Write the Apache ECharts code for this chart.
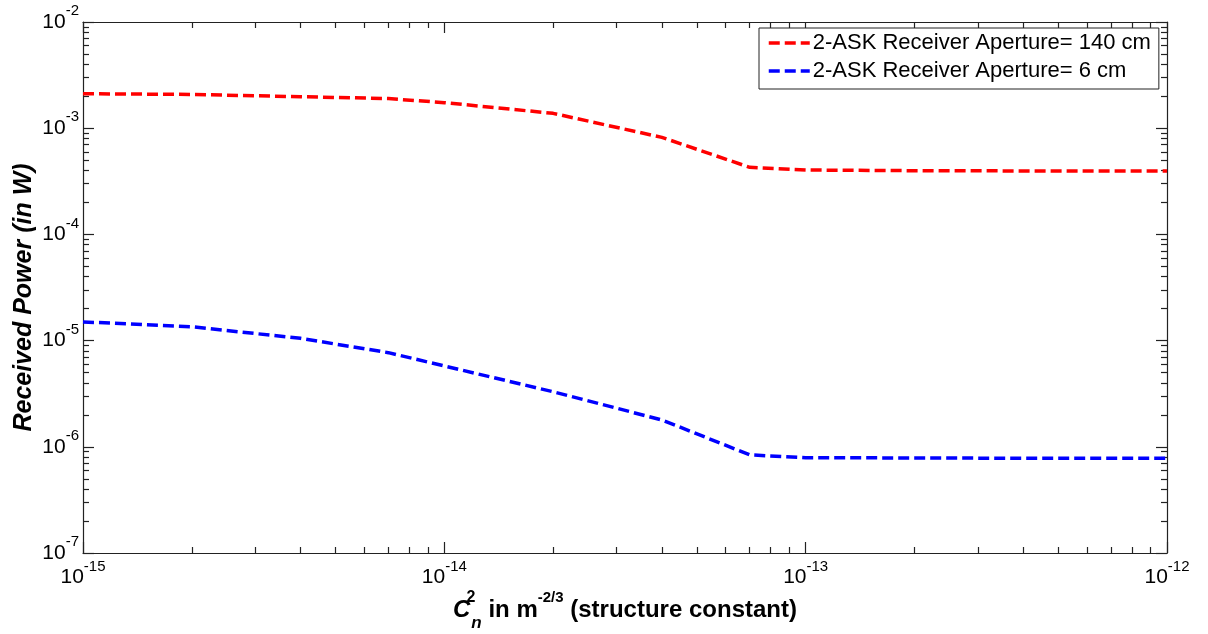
<!DOCTYPE html>
<html>
<head>
<meta charset="utf-8">
<script src="https://cdn.jsdelivr.net/npm/echarts@6/dist/echarts.min.js"></script>
<style>
  html, body { margin: 0; padding: 0; background: #fff; }
  #chart { width: 1208px; height: 634px; }
</style>
</head>
<body>
<div id="chart"></div>
<script>
// structure constant Cn^2 (m^-2/3)
const cn2 = [1e-15, 2e-15, 4e-15, 7e-15, 1e-14, 2e-14, 4e-14, 7e-14, 1e-13, 2e-13, 4e-13, 7e-13, 1e-12];
// received power (W)
const power140 = [2.11e-3, 2.08e-3, 1.98e-3, 1.90e-3, 1.74e-3, 1.38e-3, 8.2e-4, 4.28e-4, 4.04e-4, 3.98e-4, 3.96e-4, 3.95e-4, 3.95e-4];
const power6 = [1.50e-5, 1.35e-5, 1.05e-5, 7.7e-6, 5.77e-6, 3.3e-6, 1.79e-6, 8.4e-7, 7.9e-7, 7.85e-7, 7.8e-7, 7.8e-7, 7.8e-7];
const seriesNames = ['2-ASK Receiver Aperture= 140 cm', '2-ASK Receiver Aperture= 6 cm'];

const xDecades = [1e-15, 1e-14, 1e-13, 1e-12];
const yDecades = [1e-7, 1e-6, 1e-5, 1e-4, 1e-3, 1e-2];

const FONT = 'Liberation Sans, Arial, sans-serif';
const AXIS_COLOR = '#222';
const DASH = [11, 5];

function minorTicks(decades) {
  const out = [];
  for (let i = 0; i < decades.length - 1; i++) {
    for (let k = 2; k <= 9; k++) out.push(k * decades[i]);
  }
  return out;
}

const powRich = {
  b: { fontSize: 21, lineHeight: 21, color: '#000', fontFamily: FONT },
  s: { fontSize: 15, lineHeight: 15, padding: [0, 0, 22, 0], color: '#000', fontFamily: FONT }
};
const powFmt = v => '{b|10}{s|' + Math.round(Math.log10(v)) + '}';

function logAxis(kind, position, gridIndex, values, opts) {
  const isX = kind === 'x';
  const major = opts.major;
  return Object.assign({
    type: 'log',
    logBase: 10,
    gridIndex: gridIndex,
    position: position,
    min: isX ? 1e-15 : 1e-7,
    max: isX ? 1e-12 : 1e-2,
    axisLine: { show: major, onZero: false, lineStyle: { color: AXIS_COLOR, width: 1.2 } },
    axisTick: {
      show: true, inside: true, length: major ? 11 : 6,
      customValues: values,
      lineStyle: { color: AXIS_COLOR, width: 1.2 }
    },
    axisLabel: { show: false },
    splitLine: { show: false },
    minorTick: { show: false },
    minorSplitLine: { show: false }
  }, opts.extra || {});
}

const gridRect = { left: 83, right: 41, top: 22, bottom: 81, containLabel: false, outerBoundsMode: 'none' };

const xAxes = [
  logAxis('x', 'bottom', 0, xDecades, {
    major: true,
    extra: {
      axisLabel: {
        show: true, margin: 14, customValues: xDecades,
        formatter: powFmt, rich: powRich
      },
      name: '{ci|C}{cs|2}{cn|n}{t| in m}{sp|-2/3}{t| (structure constant)}',
      nameLocation: 'middle',
      nameGap: 45,
      nameMoveOverlap: false,
      nameTextStyle: {
        rich: {
          ci: { fontSize: 24, fontWeight: 'bold', fontStyle: 'italic', color: '#000', fontFamily: FONT },
          cs: { fontSize: 16, fontWeight: 'bold', lineHeight: 16, width: 1, padding: [0, 0, 24, 0], color: '#000', fontFamily: FONT },
          cn: { fontSize: 17, fontWeight: 'bold', fontStyle: 'italic', lineHeight: 17, padding: [26, 0, 0, 0], color: '#000', fontFamily: FONT },
          t: { fontSize: 24, fontWeight: 'bold', color: '#000', fontFamily: FONT },
          sp: { fontSize: 15, fontWeight: 'bold', lineHeight: 15, padding: [0, 0, 24, 0], color: '#000', fontFamily: FONT }
        }
      }
    }
  }),
  logAxis('x', 'top', 0, xDecades, { major: true }),
  logAxis('x', 'bottom', 1, minorTicks(xDecades), { major: false }),
  logAxis('x', 'top', 1, minorTicks(xDecades), { major: false })
];

const yAxes = [
  logAxis('y', 'left', 0, yDecades, {
    major: true,
    extra: {
      axisLabel: {
        show: true, margin: 4, customValues: yDecades,
        formatter: powFmt, rich: powRich
      },
      name: 'Received Power (in W)',
      nameLocation: 'middle',
      nameGap: 46,
      nameMoveOverlap: false,
      nameTextStyle: {
        fontSize: 25, fontWeight: 'bold', fontStyle: 'italic', color: '#000', fontFamily: FONT,
        padding: [0, 20, 0, 0]
      }
    }
  }),
  logAxis('y', 'right', 0, yDecades, { major: true }),
  logAxis('y', 'left', 1, minorTicks(yDecades), { major: false }),
  logAxis('y', 'right', 1, minorTicks(yDecades), { major: false })
];

function lineSeries(name, values, color) {
  return {
    name: name,
    type: 'line',
    xAxisIndex: 0,
    yAxisIndex: 0,
    data: cn2.map((x, i) => [x, values[i]]),
    symbol: 'none',
    lineStyle: { color: color, width: 3.5, type: DASH },
    itemStyle: { color: color }
  };
}

const chart = echarts.init(document.getElementById('chart'), null, { renderer: 'canvas' });
chart.setOption({
  animation: false,
  backgroundColor: '#fff',
  grid: [Object.assign({}, gridRect), Object.assign({}, gridRect)],
  xAxis: xAxes,
  yAxis: yAxes,
  legend: {
    left: 759,
    top: 28,
    orient: 'vertical',
    padding: [4, 8, 7, 8],
    itemGap: 6,
    itemWidth: 41,
    itemHeight: 22,
    backgroundColor: '#fff',
    borderColor: '#222',
    borderWidth: 1,
    borderRadius: 0,
    itemStyle: { color: 'rgba(0,0,0,0)', borderWidth: 0, opacity: 0 },
    lineStyle: { width: 3.5, type: DASH },
    textStyle: { fontSize: 22, lineHeight: 22, color: '#000', fontFamily: FONT, padding: [0, 0, 0, -2] },
    data: seriesNames
  },
  series: [
    lineSeries(seriesNames[0], power140, '#ff0000'),
    lineSeries(seriesNames[1], power6, '#0000ff')
  ]
});
</script>
</body>
</html>
